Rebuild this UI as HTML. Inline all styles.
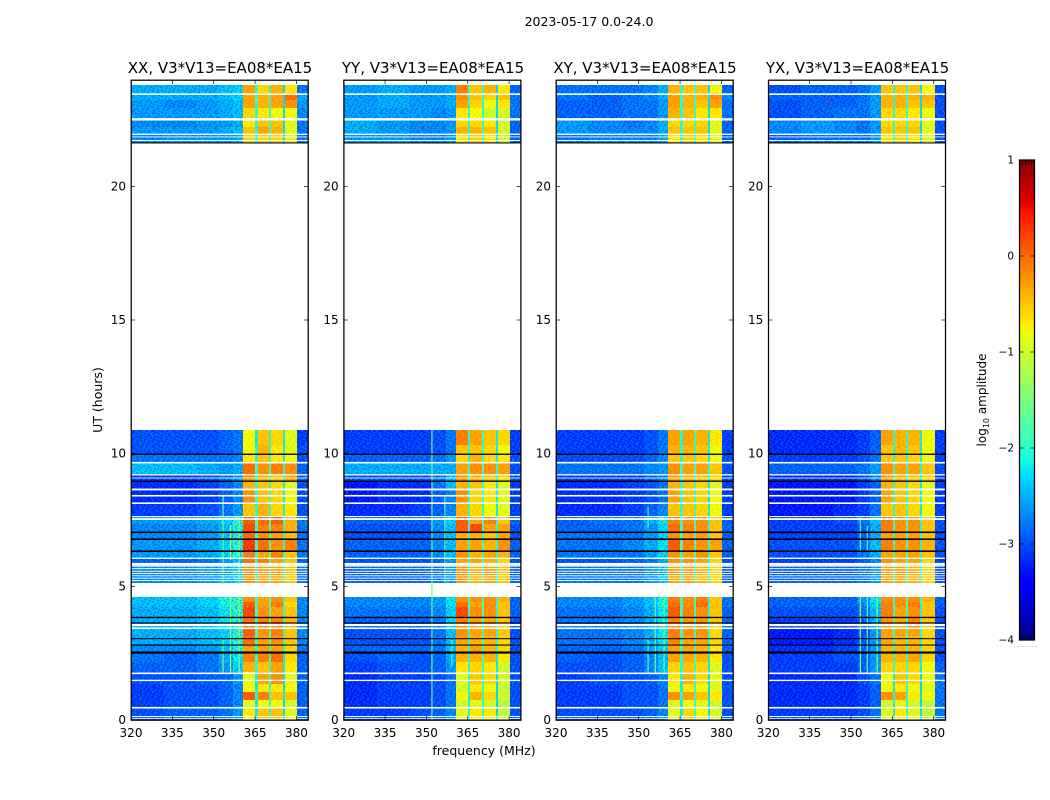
<!DOCTYPE html>
<html><head><meta charset="utf-8"><title>2023-05-17 0.0-24.0</title>
<style>
html,body{margin:0;padding:0;background:#fff}
svg{display:block}
text{font-family:"DejaVu Sans","Liberation Sans",sans-serif;fill:#000}
</style></head>
<body>
<svg id="fig" xmlns="http://www.w3.org/2000/svg" width="1050" height="800" viewBox="0 0 1050 800">
<defs id="defs"></defs>
<rect width="1050" height="800" fill="#fff"/>
<text x="589" y="26" font-size="12.5" text-anchor="middle">2023-05-17 0.0-24.0</text>
<g id="panel-0"></g>
<g id="panel-1"></g>
<g id="panel-2"></g>
<g id="panel-3"></g>
<text x="220" y="73" font-size="15" text-anchor="middle">XX, V3*V13=EA08*EA15</text>
<text x="433" y="73" font-size="15" text-anchor="middle">YY, V3*V13=EA08*EA15</text>
<text x="645" y="73" font-size="15" text-anchor="middle">XY, V3*V13=EA08*EA15</text>
<text x="857.5" y="73" font-size="15" text-anchor="middle">YX, V3*V13=EA08*EA15</text>
<text x="484" y="755" font-size="12.5" text-anchor="middle">frequency (MHz)</text>
<text transform="translate(102,400) rotate(-90)" font-size="12.5" text-anchor="middle">UT (hours)</text>
<g id="colorbar"></g>
<text transform="translate(986,400) rotate(-90)" font-size="12" text-anchor="middle">log<tspan font-size="8" dy="3">10</tspan><tspan dy="-3"> amplitude</tspan></text>
</svg>
<script>
// Frequency channel-group edges (MHz) and UT row edges (hours); a null grid row has no data.
const freqEdges = [320,332,344,352,357,360.8,365.1,365.9,370.1,370.8,375.2,375.9,380.3,384.2];
const utEdges = [0,.45,.75,1.05,1.35,1.8,2.18,2.55,2.85,3.15,3.45,3.86,4.24,4.43,4.61,5.14,5.81,6.08,6.34,6.79,7.05,7.35,7.61,8.14,8.66,8.96,9.22,9.68,9.98,10.31,10.88,21.64,21.98,22.24,22.54,22.95,23.25,23.51,23.81];
const xTickLabels = [320,335,350,365,380];
const yTickLabels = [0,5,10,15,20];
const colorbarTicks = [-4,-3,-2,-1,0,1];

// log10 amplitude, one row per UT interval, bottom to top.
const gridXX = [
[-3.0,-2.9,-2.9,-2.8,-2.6,-0.7,-2.2,-0.5,-2.0,-0.5,-2.3,-0.9,-2.9],
[-3.1,-3.0,-3.0,-2.9,-2.7,-0.9,-2.2,-0.8,-2.0,-0.8,-2.3,-1.0,-2.9],
[-3.1,-3.0,-3.0,-2.9,-2.7,0.1,-2.1,-0.1,-2.0,-0.5,-2.2,-0.5,-2.9],
[-3.1,-3.0,-3.0,-2.9,-2.7,-0.8,-2.2,-0.7,-2.0,-0.7,-2.3,-0.8,-2.9],
[-3.0,-3.0,-2.9,-2.9,-2.6,-0.9,-2.2,-0.3,-2.0,-0.2,-2.3,-0.9,-2.9],
[-2.9,-2.9,-2.8,-2.6,-2.3,-0.4,-2.0,-0.5,-1.9,-0.3,-2.2,-0.7,-2.9],
[-2.8,-2.9,-2.8,-2.5,-2.2,-0.1,-2.0,-0.1,-1.9,0.0,-2.2,-0.6,-2.9],
[-2.7,-2.7,-2.6,-2.4,-2.1,-0.3,-2.0,-0.3,-1.9,-0.3,-2.1,-0.6,-2.8],
[-2.5,-2.5,-2.4,-2.3,-2.0,0.0,-1.9,-0.3,-1.8,-0.2,-2.0,-0.5,-2.7],
[-2.5,-2.5,-2.4,-2.3,-2.0,0.1,-1.9,-0.2,-1.8,-0.1,-2.0,-0.5,-2.7],
[-2.5,-2.5,-2.4,-2.2,-2.0,0.0,-1.9,-0.1,-1.8,-0.1,-2.0,-0.4,-2.7],
[-2.5,-2.5,-2.4,-2.2,-2.0,0.2,-1.9,-0.2,-1.8,-0.3,-2.0,-0.5,-2.7],
[-2.4,-2.4,-2.3,-2.1,-1.9,0.1,-1.9,-0.3,-1.8,-0.1,-2.0,-0.6,-2.7],
[-2.4,-2.4,-2.3,-2.1,-1.9,-0.2,-1.9,-0.3,-1.8,-0.2,-2.0,-0.5,-2.7],
null,
[-2.7,-2.7,-2.6,-2.5,-2.3,-0.2,-2.0,-0.3,-1.9,-0.3,-2.1,-0.5,-2.8],
[-2.9,-2.9,-2.8,-2.6,-2.4,0.0,-2.0,-0.1,-1.9,-0.3,-2.1,-0.5,-2.9],
[-2.6,-2.6,-2.5,-2.3,-2.0,-0.1,-1.9,-0.3,-1.9,-0.1,-2.1,-0.5,-2.8],
[-2.6,-2.6,-2.5,-2.3,-2.0,0.3,-1.9,0.0,-1.8,-0.2,-2.0,-0.1,-2.8],
[-2.7,-2.7,-2.6,-2.4,-2.1,0.0,-1.9,-0.2,-1.9,-0.3,-2.0,-0.5,-2.8],
[-2.7,-2.7,-2.6,-2.4,-2.1,0.2,-1.9,-0.1,-1.9,-0.1,-2.0,-0.4,-2.8],
[-2.6,-2.6,-2.5,-2.3,-2.0,0.1,-1.9,0.0,-1.9,0.1,-2.0,-0.4,-2.8],
[-3.1,-3.1,-3.0,-2.8,-2.6,-0.5,-2.1,-0.4,-2.0,-0.6,-2.2,-0.7,-3.0],
[-3.2,-3.2,-3.1,-2.9,-2.7,-0.2,-2.1,-0.5,-2.0,-0.6,-2.2,-0.8,-3.0],
[-3.2,-3.2,-3.1,-2.9,-2.7,-0.4,-2.1,-0.5,-2.0,-0.6,-2.2,-0.9,-3.0],
[-3.1,-3.1,-3.0,-2.8,-2.6,-0.2,-2.0,-0.4,-2.0,-0.5,-2.2,-0.3,-2.9],
[-2.4,-2.4,-2.5,-2.6,-2.5,0.0,-2.0,-0.2,-1.9,-0.1,-2.1,-0.2,-2.9],
[-2.8,-2.8,-2.8,-2.8,-2.7,-0.7,-2.1,-0.5,-2.0,-0.7,-2.2,-0.8,-3.0],
[-3.0,-3.0,-3.0,-2.9,-2.8,-0.8,-2.1,-0.4,-2.0,-0.7,-2.2,-0.9,-3.0],
[-3.0,-3.0,-3.0,-2.9,-2.8,-0.8,-2.2,-0.5,-2.0,-0.6,-2.2,-0.9,-3.1],
null,
[-2.7,-2.6,-2.6,-2.6,-2.5,-0.6,-2.1,-0.6,-2.0,-0.6,-2.3,-0.9,-2.8],
[-2.6,-2.6,-2.6,-2.5,-2.4,-0.5,-2.1,-0.3,-2.0,-0.4,-2.3,-0.9,-2.8],
[-2.7,-2.7,-2.6,-2.6,-2.5,-0.7,-2.1,-0.5,-2.0,-0.5,-2.3,-0.9,-2.8],
[-2.6,-2.6,-2.6,-2.5,-2.4,-0.6,-2.0,-0.7,-2.0,-0.8,-2.3,-0.8,-2.7],
[-2.6,-2.7,-2.6,-2.5,-2.4,-0.3,-2.0,-0.4,-2.0,-0.3,-2.3,-0.2,-2.6],
[-2.5,-2.5,-2.5,-2.4,-2.3,-0.3,-2.0,-0.4,-2.0,-0.3,-2.3,0.0,-2.5],
[-2.5,-2.5,-2.5,-2.4,-2.3,-0.3,-2.0,-0.6,-2.0,-0.4,-2.3,-0.7,-2.8]
];
const gridYY = [
[-3.1,-3.1,-3.0,-2.9,-2.7,-0.9,-2.1,-0.7,-2.0,-0.7,-2.3,-1.1,-3.0],
[-3.2,-3.1,-3.1,-3.0,-2.8,-1.0,-2.1,-0.9,-2.0,-1.0,-2.3,-1.2,-3.0],
[-3.2,-3.1,-3.1,-3.0,-2.8,-0.8,-2.1,-0.4,-2.0,-0.6,-2.3,-1.0,-3.0],
[-3.2,-3.1,-3.1,-3.0,-2.8,-1.0,-2.1,-0.7,-2.0,-0.8,-2.3,-1.1,-3.0],
[-3.2,-3.1,-3.1,-3.0,-2.8,-0.9,-2.1,-0.5,-2.0,-0.6,-2.3,-1.0,-3.0],
[-3.1,-3.0,-3.0,-2.9,-2.6,-0.7,-2.0,-0.6,-2.0,-0.7,-2.2,-1.0,-3.0],
[-3.0,-2.9,-3.0,-2.9,-2.5,-0.4,-2.0,-0.4,-1.9,-0.4,-2.2,-0.7,-3.0],
[-2.9,-2.9,-2.9,-2.8,-2.4,-0.4,-2.0,-0.3,-1.9,-0.4,-2.1,-0.6,-3.0],
[-3.0,-3.0,-3.0,-2.8,-2.4,-0.3,-2.0,-0.4,-1.9,-0.4,-2.1,-0.6,-3.0],
[-3.0,-3.0,-3.0,-2.8,-2.4,-0.2,-2.0,-0.3,-1.9,-0.3,-2.1,-0.5,-3.0],
[-2.9,-2.9,-2.9,-2.8,-2.3,-0.1,-2.0,-0.3,-1.9,-0.3,-2.1,-0.5,-3.0],
[-2.8,-2.8,-2.8,-2.7,-2.3,0.2,-2.0,-0.2,-1.9,-0.2,-2.1,-0.5,-2.9],
[-2.7,-2.7,-2.7,-2.6,-2.2,0.0,-2.0,-0.3,-1.9,-0.2,-2.1,-0.5,-2.9],
[-2.7,-2.7,-2.7,-2.6,-2.2,-0.2,-2.0,-0.2,-1.9,-0.2,-2.1,-0.4,-2.9],
null,
[-2.9,-2.9,-2.9,-2.8,-2.6,-0.2,-2.0,-0.4,-1.9,-0.3,-2.1,-0.5,-2.9],
[-3.0,-3.0,-3.0,-2.9,-2.6,-0.3,-2.0,-0.3,-1.9,-0.4,-2.1,-0.6,-3.0],
[-2.9,-2.9,-2.9,-2.7,-2.4,-0.2,-2.0,-0.4,-1.9,-0.3,-2.1,-0.4,-2.9],
[-2.9,-2.9,-2.9,-2.7,-2.4,-0.3,-2.0,-0.3,-1.9,-0.4,-2.1,-0.2,-2.9],
[-3.0,-3.0,-3.0,-2.7,-2.4,-0.4,-2.0,-0.4,-1.9,-0.5,-2.1,-0.3,-3.0],
[-3.0,-3.0,-3.0,-2.7,-2.4,0.1,-2.0,0.2,-1.9,-0.3,-2.1,-0.3,-3.0],
[-2.9,-2.9,-2.9,-2.6,-2.3,0.1,-2.0,-0.3,-1.9,-0.1,-2.1,-0.5,-2.9],
[-3.2,-3.2,-3.1,-2.9,-2.7,-0.4,-2.1,-0.6,-2.0,-0.8,-2.2,-0.9,-3.1],
[-3.3,-3.2,-3.2,-2.9,-2.7,-0.2,-2.1,-0.6,-2.0,-0.7,-2.2,-0.9,-3.1],
[-3.3,-3.2,-3.2,-2.8,-2.4,-0.4,-2.1,-0.5,-2.0,-0.7,-2.2,-0.9,-3.1],
[-3.0,-3.0,-3.0,-2.8,-2.4,-0.2,-2.0,-0.4,-1.9,-0.5,-2.2,-0.6,-3.0],
[-2.5,-2.5,-2.5,-2.5,-2.5,-0.3,-2.0,-0.2,-1.9,-0.2,-2.1,-0.3,-3.0],
[-2.9,-2.9,-2.9,-2.8,-2.6,-0.6,-2.1,-0.4,-2.0,-0.6,-2.2,-0.7,-3.0],
[-3.1,-3.1,-3.1,-3.0,-2.8,-0.5,-2.1,-0.5,-2.0,-0.6,-2.2,-0.8,-3.1],
[-3.1,-3.1,-3.1,-3.0,-2.8,-0.1,-2.1,-0.3,-2.0,-0.5,-2.2,-0.6,-3.1],
null,
[-2.6,-2.6,-2.7,-2.7,-2.6,-0.7,-2.1,-0.6,-2.0,-0.7,-2.3,-1.0,-2.9],
[-2.5,-2.6,-2.7,-2.7,-2.6,-0.4,-2.1,-0.4,-2.0,-0.5,-2.3,-1.0,-2.9],
[-2.5,-2.6,-2.7,-2.7,-2.6,-0.6,-2.1,-0.6,-2.0,-0.7,-2.3,-1.0,-2.9],
[-2.6,-2.6,-2.6,-2.7,-2.6,-0.7,-2.0,-0.8,-2.0,-1.0,-2.3,-1.0,-2.8],
[-2.6,-2.5,-2.6,-2.6,-2.5,-0.3,-2.0,-0.6,-2.0,-0.8,-2.3,-0.7,-2.8],
[-2.6,-2.5,-2.6,-2.6,-2.5,-0.2,-2.0,-0.5,-2.0,-0.6,-2.3,-0.5,-2.8],
[-2.6,-2.5,-2.6,-2.6,-2.5,-0.1,-2.0,-0.5,-2.0,-0.4,-2.3,-0.7,-2.9]
];
const gridXY = [
[-3.0,-3.0,-3.0,-2.9,-2.7,-0.9,-2.2,-0.6,-2.0,-0.8,-2.3,-1.0,-3.0],
[-3.1,-3.1,-3.0,-3.0,-2.8,-0.9,-2.2,-0.8,-2.0,-0.9,-2.3,-1.0,-3.0],
[-3.1,-3.1,-3.0,-3.0,-2.8,-0.2,-2.1,-0.3,-2.0,-0.5,-2.3,-0.7,-3.0],
[-3.1,-3.1,-3.0,-3.0,-2.8,-0.8,-2.2,-0.7,-2.0,-0.8,-2.3,-0.9,-3.0],
[-3.1,-3.0,-3.0,-2.9,-2.7,-0.7,-2.2,-0.4,-2.0,-0.6,-2.3,-0.9,-3.0],
[-3.0,-3.0,-2.9,-2.7,-2.4,-0.6,-2.1,-0.5,-1.9,-0.6,-2.2,-0.9,-3.0],
[-2.9,-3.0,-2.9,-2.7,-2.4,-0.3,-2.1,-0.3,-1.9,-0.4,-2.2,-0.7,-3.0],
[-2.9,-2.9,-2.8,-2.6,-2.3,-0.3,-2.0,-0.3,-1.9,-0.4,-2.1,-0.7,-2.9],
[-2.8,-2.8,-2.7,-2.5,-2.2,-0.1,-2.0,-0.3,-1.9,-0.3,-2.1,-0.6,-2.9],
[-2.8,-2.8,-2.7,-2.5,-2.2,-0.1,-2.0,-0.2,-1.9,-0.2,-2.1,-0.6,-2.9],
[-2.8,-2.8,-2.7,-2.5,-2.2,-0.1,-2.0,-0.2,-1.9,-0.2,-2.1,-0.5,-2.9],
[-2.8,-2.8,-2.7,-2.5,-2.2,0.1,-2.0,-0.1,-1.9,-0.2,-2.1,-0.5,-2.9],
[-2.7,-2.7,-2.6,-2.4,-2.1,0.0,-2.0,-0.2,-1.9,0.0,-2.1,-0.5,-2.8],
[-2.7,-2.7,-2.6,-2.4,-2.1,-0.1,-2.0,-0.2,-1.9,-0.1,-2.1,-0.5,-2.8],
null,
[-2.8,-2.8,-2.8,-2.6,-2.4,-0.3,-2.0,-0.3,-1.9,-0.4,-2.1,-0.6,-2.9],
[-3.0,-3.0,-2.9,-2.8,-2.5,-0.2,-2.0,-0.2,-1.9,-0.3,-2.1,-0.6,-3.0],
[-2.8,-2.8,-2.8,-2.6,-2.3,-0.2,-2.0,-0.3,-1.9,-0.2,-2.1,-0.5,-2.9],
[-2.8,-2.8,-2.7,-2.5,-2.2,0.1,-1.9,-0.1,-1.9,-0.2,-2.1,-0.3,-2.9],
[-2.8,-2.8,-2.8,-2.6,-2.3,-0.2,-2.0,-0.3,-1.9,-0.3,-2.1,-0.5,-2.9],
[-2.9,-2.9,-2.8,-2.6,-2.3,0.0,-2.0,-0.1,-1.9,-0.2,-2.1,-0.5,-2.9],
[-2.9,-2.8,-2.8,-2.5,-2.2,-0.1,-2.0,-0.2,-1.9,-0.2,-2.1,-0.5,-2.9],
[-3.2,-3.2,-3.1,-2.9,-2.7,-0.5,-2.1,-0.5,-2.0,-0.6,-2.2,-0.8,-3.1],
[-3.2,-3.2,-3.1,-3.0,-2.8,-0.3,-2.1,-0.5,-2.0,-0.6,-2.2,-0.8,-3.1],
[-3.2,-3.2,-3.1,-3.0,-2.8,-0.4,-2.1,-0.5,-2.0,-0.6,-2.2,-0.9,-3.1],
[-3.1,-3.1,-3.1,-2.9,-2.7,-0.3,-2.1,-0.4,-2.0,-0.5,-2.2,-0.6,-3.0],
[-2.8,-2.8,-2.8,-2.7,-2.6,-0.2,-2.0,-0.3,-1.9,-0.3,-2.1,-0.5,-3.0],
[-3.0,-3.0,-3.0,-2.9,-2.7,-0.5,-2.1,-0.5,-2.0,-0.6,-2.2,-0.8,-3.0],
[-3.1,-3.1,-3.1,-3.0,-2.8,-0.4,-2.1,-0.4,-2.0,-0.5,-2.2,-0.8,-3.1],
[-3.1,-3.1,-3.1,-3.0,-2.8,-0.3,-2.1,-0.3,-2.0,-0.4,-2.2,-0.7,-3.1],
null,
[-2.8,-2.7,-2.7,-2.7,-2.5,-0.7,-2.1,-0.6,-2.0,-0.7,-2.3,-0.9,-2.9],
[-2.6,-2.7,-2.7,-2.7,-2.5,-0.5,-2.1,-0.5,-2.0,-0.5,-2.3,-0.9,-2.9],
[-2.6,-2.7,-2.8,-2.7,-2.5,-0.6,-2.1,-0.6,-2.0,-0.6,-2.3,-0.9,-2.9],
[-2.9,-2.9,-2.8,-2.8,-2.6,-0.4,-2.1,-0.5,-2.0,-0.7,-2.3,-0.7,-2.8],
[-2.9,-2.9,-2.8,-2.8,-2.6,-0.3,-2.1,-0.4,-2.0,-0.5,-2.3,-0.3,-2.8],
[-2.8,-2.9,-2.8,-2.7,-2.5,-0.3,-2.1,-0.4,-2.0,-0.4,-2.3,-0.2,-2.7],
[-2.8,-2.8,-2.8,-2.7,-2.5,-0.4,-2.1,-0.5,-2.0,-0.5,-2.3,-0.8,-2.9]
];
const gridYX = [
[-3.1,-3.1,-3.1,-3.0,-2.8,-0.9,-2.2,-0.7,-2.0,-0.9,-2.3,-1.1,-2.8],
[-3.2,-3.2,-3.2,-3.1,-2.9,-1.0,-2.2,-0.9,-2.0,-1.0,-2.3,-1.1,-2.8],
[-3.2,-3.2,-3.2,-3.1,-2.9,-0.2,-2.1,-0.3,-2.0,-0.7,-2.3,-0.8,-2.8],
[-3.2,-3.2,-3.2,-3.1,-2.9,-0.8,-2.2,-0.7,-2.0,-0.8,-2.3,-0.9,-2.8],
[-3.2,-3.2,-3.2,-3.0,-2.8,-0.8,-2.2,-0.5,-2.0,-0.6,-2.3,-0.8,-2.8],
[-3.1,-3.1,-3.1,-2.9,-2.6,-0.6,-2.1,-0.6,-1.9,-0.6,-2.2,-0.8,-2.9],
[-3.1,-3.1,-3.0,-2.9,-2.6,-0.4,-2.1,-0.4,-1.9,-0.3,-2.2,-0.6,-3.0],
[-3.2,-3.2,-3.1,-2.9,-2.6,-0.4,-2.0,-0.4,-1.9,-0.4,-2.1,-0.6,-3.0],
[-3.3,-3.3,-3.2,-3.0,-2.6,-0.3,-2.0,-0.4,-1.9,-0.4,-2.1,-0.6,-3.0],
[-3.3,-3.3,-3.2,-3.0,-2.6,-0.3,-2.0,-0.3,-1.9,-0.3,-2.1,-0.6,-3.0],
[-3.1,-3.1,-3.1,-2.9,-2.5,-0.2,-2.0,-0.3,-1.9,-0.1,-2.1,-0.5,-3.0],
[-3.0,-3.0,-3.0,-2.8,-2.4,-0.1,-2.0,-0.3,-1.9,-0.2,-2.1,-0.5,-3.0],
[-2.9,-2.9,-2.9,-2.7,-2.3,-0.1,-2.0,-0.2,-1.9,-0.1,-2.1,-0.5,-2.9],
[-2.9,-2.9,-2.9,-2.6,-2.2,-0.2,-2.0,-0.2,-1.9,-0.2,-2.1,-0.4,-2.9],
null,
[-2.9,-2.9,-2.9,-2.8,-2.6,-0.3,-2.0,-0.3,-1.9,-0.4,-2.1,-0.6,-3.0],
[-3.1,-3.1,-3.1,-2.9,-2.7,-0.2,-2.0,-0.3,-1.9,-0.3,-2.1,-0.6,-3.1],
[-3.0,-3.0,-3.0,-2.8,-2.5,-0.3,-2.0,-0.3,-1.9,-0.3,-2.1,-0.5,-3.0],
[-3.0,-3.0,-3.0,-2.8,-2.4,-0.1,-2.0,-0.2,-1.9,-0.2,-2.1,-0.4,-3.0],
[-3.1,-3.1,-3.1,-2.9,-2.5,-0.3,-2.0,-0.3,-1.9,-0.3,-2.1,-0.5,-3.0],
[-3.1,-3.1,-3.1,-2.9,-2.5,-0.1,-2.0,-0.2,-1.9,-0.2,-2.1,-0.5,-3.0],
[-3.1,-3.1,-3.0,-2.8,-2.4,-0.1,-2.0,-0.2,-1.9,-0.2,-2.1,-0.5,-3.0],
[-3.3,-3.3,-3.2,-3.1,-2.8,-0.5,-2.1,-0.5,-2.0,-0.6,-2.2,-0.8,-3.1],
[-3.3,-3.3,-3.3,-3.1,-2.9,-0.3,-2.1,-0.5,-2.0,-0.6,-2.2,-0.8,-3.1],
[-3.3,-3.3,-3.3,-3.1,-2.9,-0.4,-2.1,-0.5,-2.0,-0.6,-2.2,-0.9,-3.1],
[-3.2,-3.2,-3.2,-3.0,-2.7,-0.3,-2.1,-0.4,-2.0,-0.5,-2.2,-0.6,-3.1],
[-2.9,-2.9,-2.9,-2.8,-2.6,-0.2,-2.0,-0.3,-1.9,-0.3,-2.1,-0.5,-3.0],
[-3.1,-3.1,-3.1,-3.0,-2.8,-0.5,-2.1,-0.5,-2.0,-0.6,-2.2,-0.8,-3.1],
[-3.2,-3.2,-3.2,-3.1,-2.9,-0.5,-2.1,-0.4,-2.0,-0.5,-2.2,-0.8,-3.1],
[-3.2,-3.2,-3.2,-3.1,-2.9,-0.3,-2.1,-0.4,-2.0,-0.4,-2.2,-0.8,-3.1],
null,
[-2.9,-2.8,-2.8,-2.8,-2.6,-0.7,-2.1,-0.6,-2.0,-0.7,-2.3,-0.9,-3.0],
[-2.7,-2.6,-2.7,-2.8,-2.6,-0.5,-2.1,-0.5,-2.0,-0.5,-2.3,-0.9,-3.0],
[-2.7,-2.6,-2.7,-2.8,-2.6,-0.6,-2.1,-0.6,-2.0,-0.6,-2.3,-0.9,-3.0],
[-3.0,-2.9,-2.8,-2.8,-2.6,-0.6,-2.1,-0.6,-2.0,-0.7,-2.3,-0.8,-3.0],
[-3.0,-2.9,-2.9,-2.8,-2.6,-0.4,-2.1,-0.4,-2.0,-0.5,-2.3,-0.5,-3.0],
[-2.9,-2.9,-2.9,-2.8,-2.6,-0.4,-2.1,-0.4,-2.0,-0.4,-2.3,-0.4,-3.0],
[-3.0,-2.9,-2.9,-2.8,-2.6,-0.5,-2.1,-0.5,-2.0,-0.5,-2.3,-0.8,-3.0]
];

// Flagged UT intervals (hours), shared by all four panels.
const whiteFlags = [[.04,.07],[.11,.15],[.43,.49],[1.46,1.51],[1.72,1.78],[3.41,3.47],[3.52,3.6],[5.21,5.245],[5.3,5.335],[5.39,5.425],[5.475,5.51],[5.56,5.595],[5.66,5.695],[5.75,5.785],[5.79,5.89],[6.04,6.09],[7.5,7.57],[7.61,7.65],[8.1,8.16],[8.38,8.44],[8.61,8.68],[9.06,9.09],[9.17,9.22],[9.62,9.68],[21.71,21.75],[21.85,21.88],[21.94,21.99],[22.48,22.57],[23.44,23.5]];
const blackFlags = [[2.49,2.57],[2.79,2.83],[3.03,3.07],[3.62,3.66],[3.82,3.87],[6.3,6.36],[6.75,6.81],[7.01,7.07],[8.93,8.98],[9.94,9.99],[21.62,21.66]];

// Narrow interference lines: panel index, frequency (MHz), UT start, UT end, log10 amplitude.
const rfiLines = [
[0,353.4,1.75,3.0,-1.6],[0,353.4,5.1,8.4,-1.7],[0,356.1,1.75,4.61,-1.3],[0,356.1,6.0,7.3,-1.0],[0,359.2,1.75,4.61,-1.5],[0,359.2,5.1,7.6,-1.5],
[1,352,0,10.88,-1.6],[1,356.7,5.1,8.4,-1.7],[1,359.2,2.0,3.0,-1.8],
[2,353.4,1.75,3.0,-1.7],[2,356,1.75,4.61,-1.6],[2,359.2,1.75,4.61,-1.6],[2,353.4,7.2,8.0,-1.9],[2,342.1,23.15,23.25,0.4],
[3,353.4,1.75,4.61,-1.5],[3,355.9,1.75,4.61,-1.7],[3,359.5,1.75,4.61,-1.5],[3,353.4,6.3,7.6,-1.8],[3,355.9,6.3,7.3,-1.8],[3,341.9,23.15,23.25,0.4]
];

// Decorative pixel grain tile: d = darker, l = lighter, . = unchanged.
const grainTile = [
"d..l.d...l..d.l",
".l...ld.d..l...",
"..d.l...l.d..ld",
"l..d..l...l.d..",
".d...l.d.d...l.",
"..l.d...l..d...",
"d...l.d...l..l.",
".l.d...l.d..d..",
"...l.d..l...l.d",
"l.d...l..d.l...",
".d..l..d...l.d.",
"..l...d.l.d...l"
];
const gridsByPanel = [gridXX,gridYY,gridXY,gridYX];
const panelLeft = [131,343.7,556,768.3];
const SVGNS = "http://www.w3.org/2000/svg";
const AXW = 177, TOP = 80, BOT = 720, FMIN = 320, FMAX = 384.2, UTMAX = 24;
const xScale = (f,left) => left + (f-FMIN)*AXW/(FMAX-FMIN);
const yScale = ut => BOT - ut*(BOT-TOP)/UTMAX;

function interp(t,pts){
  for(let i=1;i<pts.length;i++){
    if(t<=pts[i][0]){
      const a=pts[i-1],b=pts[i];
      return a[1]+(b[1]-a[1])*(t-a[0])/(b[0]-a[0]);
    }
  }
  return pts[pts.length-1][1];
}
function jet(v){
  const t=Math.max(0,Math.min(1,(v+4)/5));
  const r=interp(t,[[0,0],[.35,0],[.66,1],[.89,1],[1,.5]]);
  const g=interp(t,[[0,0],[.125,0],[.375,1],[.64,1],[.91,0],[1,0]]);
  const b=interp(t,[[0,.5],[.11,1],[.34,1],[.65,0],[1,0]]);
  return "rgb("+Math.round(r*255)+","+Math.round(g*255)+","+Math.round(b*255)+")";
}
function mk(tag,attrs,parent){
  const el=document.createElementNS(SVGNS,tag);
  for(const k in attrs){el.setAttribute(k,attrs[k]);}
  if(parent){parent.appendChild(el);}
  return el;
}

// Grain patterns
const defs=document.getElementById("defs");
function addPattern(id,dark,light){
  const cw=1.38,ch=1.33;
  const p=mk("pattern",{id:id,patternUnits:"userSpaceOnUse",width:grainTile[0].length*cw,height:grainTile.length*ch},defs);
  grainTile.forEach((row,j)=>{
    [...row].forEach((c,i)=>{
      if(c==="."){return;}
      mk("rect",{x:i*cw,y:j*ch,width:cw,height:ch,fill:c==="d"?dark:light},p);
    });
  });
}
addPattern("grain-cool","rgba(0,0,170,.4)","rgba(0,225,255,.32)");
addPattern("grain-warm","rgba(255,40,0,.16)","rgba(255,255,60,.2)");

gridsByPanel.forEach((grid,pi)=>{
  const left=panelLeft[pi];
  const g=document.getElementById("panel-"+pi);
  // cells
  grid.forEach((row,ri)=>{
    if(!row){return;}
    const y0=Math.round(yScale(utEdges[ri+1])),y1=Math.round(yScale(utEdges[ri]));
    row.forEach((val,ci)=>{
      const x0=Math.round(xScale(freqEdges[ci],left)),x1=Math.round(xScale(freqEdges[ci+1],left));
      const c=mk("rect",{x:x0,y:y0,width:x1-x0,height:y1-y0,fill:jet(val)},g);
      
      
    });
    // grain overlays for the row
    const bandStart=Math.round(xScale(freqEdges[5],left)),bandEnd=Math.round(xScale(freqEdges[12],left));
    const xa=Math.round(xScale(FMIN,left)),xb=Math.round(xScale(FMAX,left));
    const o1=mk("rect",{x:xa,y:y0,width:bandStart-xa,height:y1-y0,fill:"url(#grain-cool)"},g);
    
    
    const o2=mk("rect",{x:bandStart,y:y0,width:bandEnd-bandStart,height:y1-y0,fill:"url(#grain-warm)"},g);
    
    
    const o3=mk("rect",{x:bandEnd,y:y0,width:xb-bandEnd,height:y1-y0,fill:"url(#grain-cool)"},g);
    
    
  });
  // interference lines
  rfiLines.filter(r=>r[0]===pi).forEach(r=>{
    const l=mk("rect",{x:xScale(r[1],left)-.6,y:yScale(r[3]),width:1.2,height:yScale(r[2])-yScale(r[3]),fill:jet(r[4])},g);
    
    
  });
  // flagged rows
  whiteFlags.forEach(f=>{
    const r=mk("rect",{x:left,y:yScale(f[1]),width:AXW,height:yScale(f[0])-yScale(f[1]),fill:"#fff"},g);
    
    
  });
  blackFlags.forEach(f=>{
    const r=mk("rect",{x:left,y:yScale(f[1]),width:AXW,height:yScale(f[0])-yScale(f[1]),fill:"#000"},g);
    
    
  });
  // ticks and labels
  xTickLabels.forEach(v=>{
    const x=xScale(v,left);
    const t1=mk("line",{x1:x,x2:x,y1:TOP,y2:TOP+4,stroke:"#000","stroke-width":.7},g);
    
    
    const t2=mk("line",{x1:x,x2:x,y1:BOT,y2:BOT-4,stroke:"#000","stroke-width":.7},g);
    
    
    const lb=mk("text",{x:x,y:BOT+17,"font-size":12,"text-anchor":"middle"},g);
    
    
    lb.textContent=String(v);
  });
  yTickLabels.forEach(v=>{
    const y=yScale(v);
    const t1=mk("line",{x1:left,x2:left+4,y1:y,y2:y,stroke:"#000","stroke-width":.7},g);
    
    
    const t2=mk("line",{x1:left+AXW,x2:left+AXW-4,y1:y,y2:y,stroke:"#000","stroke-width":.7},g);
    
    
    const lb=mk("text",{x:left-5,y:y+4,"font-size":12,"text-anchor":"end"},g);
    
    
    lb.textContent=String(v);
  });
  const fr=mk("rect",{x:left+.2,y:TOP+.2,width:AXW,height:BOT-TOP,fill:"none",stroke:"#000","stroke-width":1.25},g);
  
  
});

// Colorbar
(function(){
  const cb=document.getElementById("colorbar");
  const X=1019.5,W=15,CT=160,CB=640;
  const cy=v=>CB-(v+4)*(CB-CT)/5;
  const grad=mk("linearGradient",{id:"jet-gradient",x1:0,y1:1,x2:0,y2:0},defs);
  [0,.11,.125,.34,.35,.375,.5,.64,.65,.66,.75,.89,.91,1].forEach(t=>{
    mk("stop",{offset:t,"stop-color":jet(t*5-4)},grad);
  });
  const bar=mk("rect",{x:X,y:CT,width:W,height:CB-CT,fill:"url(#jet-gradient)"},cb);
  
  
  colorbarTicks.forEach(v=>{
    const y=cy(v);
    if(v>-4&&v<1){
      const a=mk("line",{x1:X,x2:X+4,y1:y,y2:y,stroke:"#000","stroke-width":.7},cb);
      
      
      const b=mk("line",{x1:X+W,x2:X+W-4,y1:y,y2:y,stroke:"#000","stroke-width":.7},cb);
      
      
    }
    const lb=mk("text",{x:1014,y:y+3.5,"font-size":10.5,"text-anchor":"end"},cb);
    
    
    lb.textContent=(v<0?"\u2212":"")+Math.abs(v);
  });
  [3,6,9,12].forEach(dx=>{
    const a=mk("line",{x1:X+dx,x2:X+dx,y1:CT,y2:CT+5,stroke:"#000","stroke-width":.7},cb);
    
    
    const b=mk("line",{x1:X+dx,x2:X+dx,y1:CB,y2:CB-5,stroke:"#000","stroke-width":.7},cb);
    
    
  });
  [-2,1,4,7,10,13,16].forEach(dx=>{
    const d=mk("rect",{x:X+dx,y:646,width:1,height:1,fill:"#bbb"},cb);
    
    
  });
  const fr=mk("rect",{x:X,y:CT,width:W,height:CB-CT,fill:"none",stroke:"#000","stroke-width":1.25},cb);
  
  
})();
</script>
</body></html>
